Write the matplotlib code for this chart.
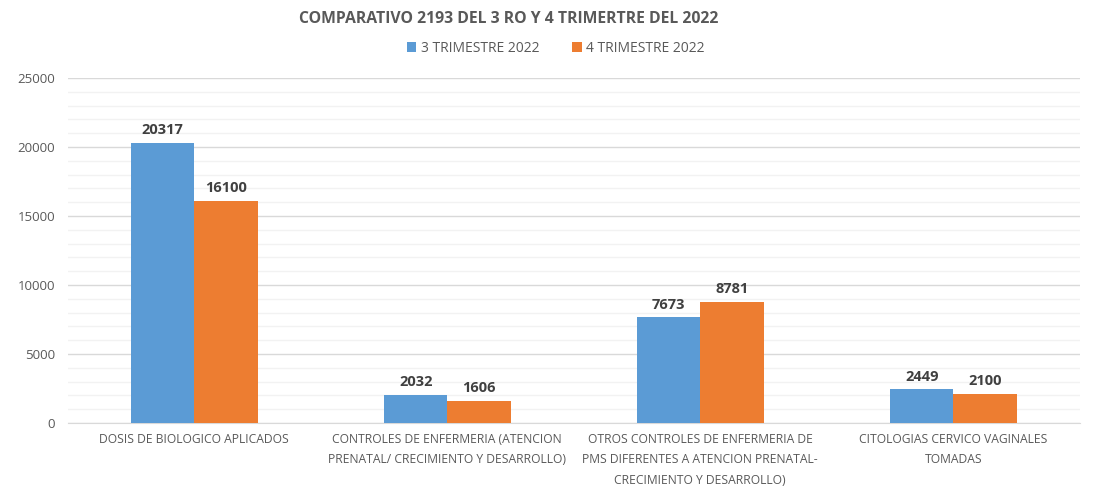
import numpy as np
import matplotlib.pyplot as plt
from matplotlib.ticker import MultipleLocator

# Data
categories = [
    "DOSIS DE BIOLOGICO APLICADOS",
    "CONTROLES DE ENFERMERIA (ATENCION\nPRENATAL/ CRECIMIENTO Y DESARROLLO)",
    "OTROS CONTROLES DE ENFERMERIA DE\nPMS DIFERENTES A ATENCION PRENATAL-\nCRECIMIENTO Y DESARROLLO)",
    "CITOLOGIAS CERVICO VAGINALES\nTOMADAS",
]
trim3 = [20317, 2032, 7673, 2449]
trim4 = [16100, 1606, 8781, 2100]
series_names = ["3 TRIMESTRE 2022", "4 TRIMESTRE 2022"]

plt.rcParams['font.family'] = ['Open Sans', 'DejaVu Sans']

fig = plt.figure(figsize=(10.94, 4.95), dpi=100)
ax = fig.add_axes([0.062, 0.1455, 0.925, 0.697])

x = np.arange(len(categories))
w = 0.25
b1 = ax.bar(x - w / 2, trim3, w, color='#5B9BD5', label=series_names[0], zorder=3)
b2 = ax.bar(x + w / 2, trim4, w, color='#ED7D31', label=series_names[1], zorder=3)

for bars in (b1, b2):
    for rect in bars:
        ax.annotate(f"{int(rect.get_height())}",
                    (rect.get_x() + rect.get_width() / 2, rect.get_height()),
                    xytext=(0, 4), textcoords='offset points',
                    ha='center', va='bottom', fontsize=10.5, fontweight='bold',
                    color='#404040')

ax.set_xlim(-0.5, len(categories) - 0.5)
ax.set_ylim(0, 25000)
ax.yaxis.set_major_locator(MultipleLocator(5000))
ax.yaxis.set_minor_locator(MultipleLocator(1000))
ax.grid(axis='y', which='major', color='#D9D9D9', linewidth=1, zorder=0)
ax.grid(axis='y', which='minor', color='#F2F2F2', linewidth=1, zorder=0)
ax.tick_params(axis='y', which='both', length=0, labelsize=9.5, labelcolor='#595959', pad=9)
ax.tick_params(axis='x', length=0, labelcolor='#595959', pad=7)
ax.set_xticks(x)
ax.set_xticklabels(categories, fontsize=8.7, linespacing=1.75)
for s in ['top', 'right', 'left']:
    ax.spines[s].set_visible(False)
ax.spines['bottom'].set_color('#D9D9D9')

fig.text(0.465, 0.962, "COMPARATIVO 2193 DEL 3 RO Y 4 TRIMERTRE DEL 2022",
         ha='center', va='center', fontsize=11.3, fontweight='bold', color='#595959')
fig.legend(loc='center', bbox_to_anchor=(0.508, 0.903), ncol=2, frameon=False,
           fontsize=10, labelcolor='#595959', handlelength=0.7, handleheight=0.7,
           handletextpad=0.3, columnspacing=2.4)

fig.savefig("out.png", dpi=100)
